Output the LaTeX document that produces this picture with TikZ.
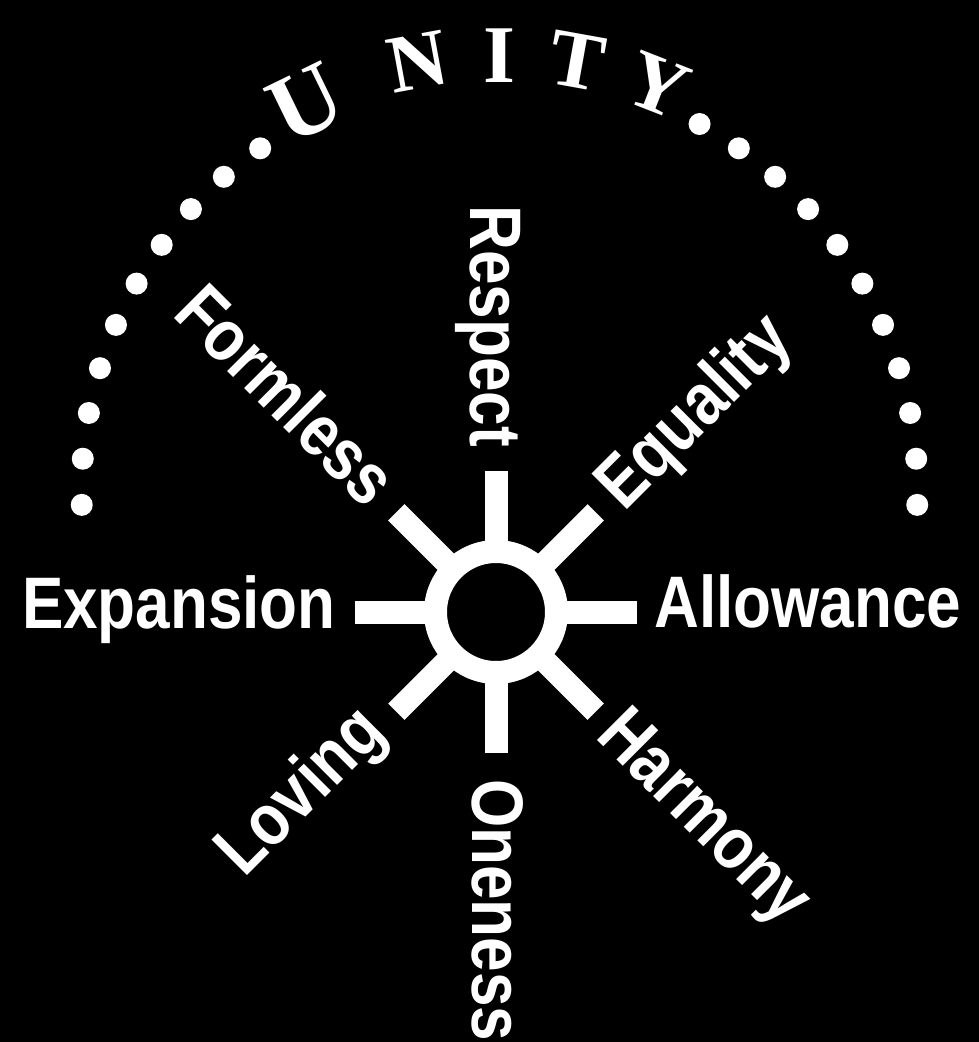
\documentclass[tikz,border=0pt]{standalone}
\usepackage{fontspec}
\usetikzlibrary{calc}
\newfontfamily\labfont[FakeStretch=0.85]{Liberation Sans}
\newfontfamily\unifont{Liberation Serif}
\begin{document}
\begin{tikzpicture}[x=1pt,y=1pt,
  lab/.style={text=white, inner sep=0pt, font=\labfont\bfseries\fontsize{73}{80}\selectfont},
  uni/.style={text=white, inner sep=0pt, font=\unifont\bfseries\fontsize{82}{86}\selectfont},
  spoke/.style={draw=white, line width=23pt, line cap=butt},
  ring/.style={circle, draw=white, line width=23pt, minimum size=121pt, inner sep=0pt},
  dotmark/.style={fill=white}]
\fill[black] (0,0) rectangle (979,-1042);
\useasboundingbox (0,0) rectangle (979,-1042);
% hub and spokes
\coordinate (c) at (496,-612);
\foreach \ang [count=\i] in {0,45,90,135,180,225,270,315}{
  \coordinate (s\i) at ($(c)+(\ang:141)$);
  \draw[spoke] ($(c)!60pt!(s\i)$) -- (s\i);
}
\node[ring] (hub) at (c) {};
% dotted arc
\coordinate (o) at (499.5,-491);
\foreach \k in {0,...,10}{
  \fill[dotmark] ($(o)+({-1.9+6.33*\k}:418)$) circle (11);
}
\foreach \k in {0,...,9}{
  \fill[dotmark] ($(o)+({181.9-6.33*\k}:418)$) circle (11);
}
% UNITY
\node[uni, rotate=26, anchor=base, font=\unifont\bfseries\fontsize{96}{100}\selectfont] (uU) at ($(o)+(116.5:402)$) {U};
\node[uni, rotate=10.5, anchor=base] (uN) at ($(o)+(100.8:410)$) {N};
\node[uni, rotate=0, anchor=base] (uI) at ($(o)+(90:409)$) {I};
\node[uni, rotate=-10.2, anchor=base] (uT) at ($(o)+(79.8:410)$) {T};
\node[uni, rotate=-21.3, anchor=base] (uY) at ($(o)+(68.7:409)$) {Y};
% labels
\node[lab, anchor=base east] (expansion) at (336,-628) {Expansion};
\node[lab, anchor=base west] (allowance) at (654,-627) {Allowance};
\node[lab, rotate=-90, anchor=base east] (respect) at (470,-447) {Respect};
\node[lab, rotate=-90, anchor=base west] (oneness) at (472,-779) {Oneness};
\node[lab, rotate=-45, anchor=base west] (formless) at (171,-315) {Formless};
\node[lab, rotate=45, anchor=base west] (equality) at (624,-513) {Equality};
\node[lab, rotate=-45, anchor=base west] (harmony) at (594,-737) {Harmony};
\node[lab, rotate=45, anchor=base west] (loving) at (244,-879) {Loving};
\end{tikzpicture}
\end{document}
